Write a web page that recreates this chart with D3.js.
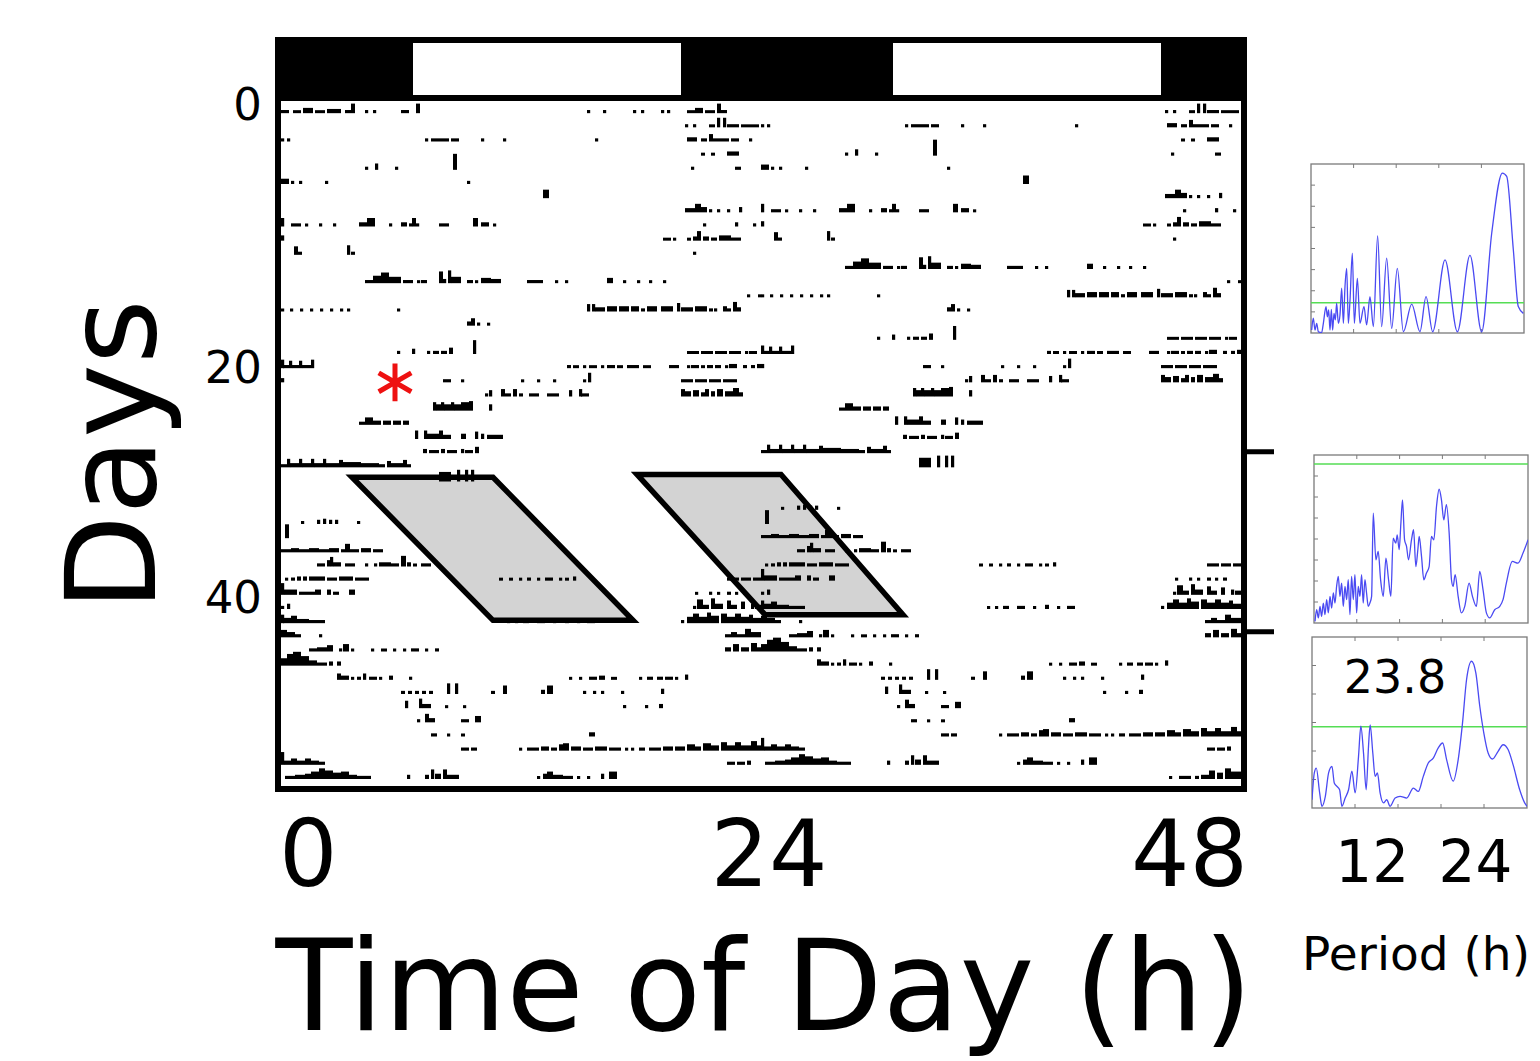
<!DOCTYPE html>
<html>
<head>
<meta charset="utf-8">
<script src="https://cdn.jsdelivr.net/npm/d3@7"></script>
<style>
body { margin: 0; background: #fff; }
svg { display: block; font-family: "DejaVu Sans", Verdana, sans-serif; }
</style>
</head>
<body>
<div id="container"></div>
<script>
const w = 1540;
const h = 1061;

// light schedule on the 48 h double plot (dark spans, hours)
let darkSpans = [[0, 6.6], [20, 30.6], [44, 48]];
let hourTicks = [0, 24, 48];
let dayTicks = [0, 20, 40];

// activity bouts per day: [start h, end h, level]
let bouts = [
  [[0,0.4,2],[0.6,1.0,1],[1.1,1.6,4],[1.7,2.2,1],[2.3,3.0,3],[3.2,3.5,2],[3.5,3.7,8],[4.2,4.35,2],[4.6,4.75,2],[6.0,6.4,2],[6.75,6.95,8],[15.3,15.45,2],[16.1,16.25,2],[17.6,17.75,2],[18.0,18.15,2],[19.0,19.15,2],[19.3,19.45,2],[20.3,20.7,1],[20.7,21.1,4],[21.2,21.7,1],[21.8,22.0,8],[22.0,22.3,2]],
  [[20.2,20.35,2],[20.6,20.75,2],[21.4,21.7,1],[21.8,21.95,8],[22.1,22.25,8],[22.3,22.9,2],[23.0,23.9,1]],
  [[0,0.15,2],[0.3,0.45,2],[7.2,7.35,2],[7.5,8.4,2],[8.5,8.9,2],[10.0,10.15,2],[11.1,11.25,2],[15.7,15.85,2],[20.3,20.8,3],[21.0,21.3,2],[21.4,21.6,6],[21.6,22.4,2],[22.5,22.9,2],[23.4,23.55,2]],
  [[21.0,21.2,1],[21.5,21.7,1],[22.3,22.9,3]],
  [[4.2,4.35,2],[4.7,4.85,5],[5.7,5.85,2],[8.6,8.8,14],[20.5,20.65,2],[22.7,23.0,2]],
  [[0,0.4,4],[0.5,0.6,2],[0.9,1.0,2],[2.2,2.35,2],[9.3,9.45,2]],
  [[13.1,13.4,7]],
  [[20.2,20.7,3],[20.7,21.0,7],[21.0,21.3,4],[21.4,21.55,2],[21.8,21.95,2],[22.3,22.45,2],[22.9,23.05,4]],
  [[0,0.15,7],[0.5,1.0,2],[1.2,1.3,1],[1.9,2.05,2],[2.6,2.75,2],[3.9,4.3,3],[4.3,4.7,7],[5.4,5.55,2],[6.0,6.3,3],[6.4,6.55,2],[6.55,6.75,7],[6.75,6.9,2],[7.9,8.4,2],[9.6,9.85,7],[10.0,10.4,3],[10.6,10.75,1],[21.1,21.25,2],[22.7,22.85,3],[23.6,23.75,2]],
  [[0,0.1,4],[19.1,19.5,1],[19.6,19.75,1],[20.3,20.5,1],[20.6,20.8,3],[20.8,21.0,8],[21.1,21.4,3],[21.5,21.8,2],[21.9,22.5,4],[22.5,23.0,2]],
  [[0.65,0.85,7],[0.85,1.05,2],[3.3,3.45,8],[3.5,3.7,2],[20.6,20.75,2]],
  [],
  [[4.2,4.6,2],[4.6,5.0,6],[5.0,5.4,9],[5.4,6.0,5],[6.1,6.6,2],[6.8,6.95,1],[7.0,7.3,2],[7.9,8.1,10],[8.1,8.25,3],[8.35,8.5,11],[8.5,9.0,5],[9.3,9.6,2],[9.7,9.85,1],[10.0,10.5,4],[10.5,11.0,3],[12.3,13.1,2],[13.7,13.85,1],[14.2,14.35,1],[16.3,16.6,4],[17.1,17.25,1],[17.8,17.95,1],[18.4,18.55,1],[19.1,19.25,1]],
  [[23.3,23.45,1],[23.85,24,1]],
  [[0,0.12,1],[0.45,0.57,1],[0.95,1.07,1],[1.45,1.57,1],[1.95,2.07,1],[2.45,2.57,1],[2.95,3.07,1],[3.3,3.42,1],[5.8,5.92,1],[15.3,15.45,6],[15.55,15.7,6],[15.7,16.2,3],[16.3,16.8,4],[16.9,17.4,4],[17.5,17.9,4],[18.0,18.2,2],[18.3,18.8,4],[19.0,19.6,4],[19.8,19.95,7],[20.0,20.6,3],[20.7,21.3,4],[21.4,21.6,2],[21.65,21.8,2],[22.1,22.3,4],[22.3,22.5,2],[22.6,22.8,8],[22.8,23.0,3]],
  [[9.3,9.5,3],[9.5,9.7,6],[9.8,9.95,2],[10.3,10.45,1]],
  [],
  [[5.8,5.95,2],[6.55,6.65,4],[7.3,7.45,2],[7.6,7.9,2],[8.0,8.3,2],[8.4,8.6,5],[9.6,9.75,12],[20.3,20.9,1],[21.0,21.6,1],[21.7,22.3,1],[22.4,23.0,1],[23.2,23.3,1],[23.4,23.8,1]],
  [[0,0.1,7],[0.1,0.4,2],[0.4,0.55,6],[0.55,0.9,2],[0.9,1.05,6],[1.05,1.5,2],[1.5,1.6,7],[14.3,14.5,2],[14.6,14.9,1],[15.1,15.25,1],[15.4,15.8,1],[16.0,16.15,1],[16.3,16.7,2],[16.8,17.1,1],[17.3,17.9,2],[18.1,18.5,1],[19.4,19.9,2],[20.3,20.45,1],[20.5,20.9,2],[21.0,21.2,1],[21.3,21.6,2],[21.7,22.0,2],[22.2,22.35,1],[22.4,22.8,3],[23.1,23.3,2],[23.5,23.7,2],[23.8,24,3]],
  [[0,0.12,3],[8.1,8.5,2],[9.0,9.12,1],[12.0,12.12,1],[12.8,12.92,1],[13.6,13.72,1],[15.1,15.22,1],[15.35,15.5,8],[20.0,20.6,2],[20.7,21.3,2],[21.4,22.0,2],[22.1,22.8,2]],
  [[10.2,10.3,2],[10.4,10.5,5],[11.0,11.2,6],[11.2,11.5,2],[11.6,11.8,6],[11.9,12.1,2],[12.4,12.9,2],[13.3,13.9,2],[14.4,14.5,5],[14.9,15.0,6],[15.0,15.4,2],[20.0,20.2,6],[20.2,20.5,4],[20.6,20.9,5],[21.0,21.2,3],[21.2,21.4,6],[21.5,21.7,4],[21.8,22.1,6],[22.2,22.6,4],[22.6,22.9,7],[22.9,23.1,3]],
  [[7.6,7.75,7],[7.75,8.0,5],[8.0,8.15,7],[8.15,8.5,5],[8.5,8.65,7],[8.65,9.0,5],[9.0,9.4,7],[9.4,9.6,8],[10.4,10.5,5]],
  [[3.9,4.2,2],[4.2,4.6,6],[4.6,5.0,3],[5.1,5.5,3],[5.6,6.0,3],[6.1,6.4,3]],
  [[6.7,6.8,7],[7.15,7.3,7],[7.3,7.9,4],[7.9,8.1,7],[8.1,8.5,3],[9.0,9.25,4],[9.7,9.8,6],[10.0,10.1,4],[10.3,11.1,3]],
  [[7.1,7.3,3],[7.4,7.9,2],[8.0,8.2,3],[8.3,8.8,2],[9.0,9.15,3],[9.2,9.6,2],[9.7,9.9,5]],
  [[0,0.3,2],[0.3,0.45,7],[0.45,0.9,3],[0.9,1.05,7],[1.05,1.5,3],[1.5,1.65,7],[1.65,2.1,3],[2.1,2.25,7],[2.25,2.9,3],[2.9,3.1,6],[3.1,4.0,4],[4.0,4.9,3],[4.9,5.2,2],[5.3,5.5,5],[5.5,6.1,3],[6.1,6.3,6],[6.3,6.5,2]],
  [[7.9,8.5,8],[8.8,8.95,10],[9.2,9.35,10],[9.5,9.6,10]],
  [],
  [],
  [[1.0,1.12,1],[1.8,1.95,3],[2.1,2.25,4],[2.4,2.55,3],[2.7,2.85,3],[3.8,3.92,1]],
  [[0.2,0.4,12]],
  [[0,0.5,2],[0.5,0.9,3],[0.9,1.4,2],[1.4,1.9,3],[1.9,2.4,2],[2.4,2.9,3],[3.0,3.2,2],[3.2,3.45,7],[3.45,3.9,2],[4.0,4.5,3],[4.6,5.1,2]],
  [[1.8,2.2,2],[2.3,2.45,5],[2.45,2.6,8],[2.6,3.0,3],[3.2,3.7,2],[4.2,4.32,2],[4.65,4.77,2],[4.9,5.5,3],[5.5,5.9,2],[6.0,6.25,9],[6.3,6.5,3],[6.6,6.8,1],[7.0,7.5,2]],
  [[0.2,0.3,1],[0.5,0.7,2],[0.8,1.0,3],[1.1,1.3,3],[1.4,2.2,3],[2.3,2.8,2],[2.9,3.6,3],[3.7,4.4,2],[10.9,11.1,1],[11.4,11.6,1],[11.9,12.0,1],[12.3,12.5,2],[12.8,12.9,1],[13.2,13.6,2],[13.9,14.0,1],[14.2,14.4,1],[14.6,14.7,3],[22.3,22.9,2],[23.0,23.5,2],[23.6,24,2]],
  [[0,0.15,10],[0.15,0.4,4],[0.4,0.8,4],[0.9,1.3,2],[1.3,1.7,2],[1.7,2.0,4],[2.3,2.5,4],[2.6,2.9,2],[3.4,3.7,4],[20.7,20.82,1],[21.4,21.52,2],[21.8,21.92,1],[22.3,22.5,2],[22.7,22.82,1],[23.1,23.3,2]],
  [[0,0.1,2],[0.3,0.4,4],[20.6,20.7,2],[20.8,21.1,8],[21.1,21.4,3],[21.5,21.7,9],[21.7,22.1,4],[22.3,22.5,7],[22.5,22.8,3],[23.0,23.2,6],[23.5,23.6,4],[23.7,24,3]],
  [[0,0.1,7],[0.1,0.5,4],[0.5,0.8,6],[0.8,1.4,3],[1.4,2.2,2],[11.3,11.42,1],[11.7,11.82,1],[12.1,12.4,2],[12.8,13.2,2],[13.6,13.72,1],[14.2,14.4,3],[14.8,14.92,1],[15.3,15.7,2],[20.0,20.12,2],[20.3,20.6,5],[20.6,20.9,8],[20.9,21.3,5],[21.3,21.5,9],[21.5,21.9,6],[22.0,22.3,8],[22.3,22.7,5],[22.7,23.0,8],[23.0,23.4,5],[23.4,23.6,7],[23.6,24,4]],
  [[0,0.3,6],[0.3,0.7,4],[0.7,1.0,2],[1.9,2.02,2],[22.2,22.5,2],[22.5,22.8,4],[22.8,23.2,2],[23.2,23.5,7],[23.5,24,4]],
  [[1.4,1.8,2],[1.8,2.3,3],[2.3,2.6,5],[2.9,3.0,2],[3.1,3.4,6],[3.5,3.6,1],[4.5,4.6,1],[5.0,5.3,1],[5.6,5.7,1],[6.1,6.2,1],[6.5,6.9,2],[7.2,7.3,1],[7.7,7.9,2],[22.2,22.5,3],[22.6,22.9,6],[23.0,23.4,3],[23.5,23.8,7],[23.8,24,3]],
  [[0,0.3,6],[0.3,0.6,10],[0.6,1.0,12],[1.0,1.4,8],[1.4,1.8,4],[1.8,2.3,2],[2.4,2.6,3],[2.8,3.0,3]],
  [[2.8,3.0,5],[3.0,3.4,3],[3.5,3.6,1],[3.8,4.0,2],[4.1,4.2,5],[4.4,4.8,2],[4.9,5.0,1],[5.4,5.6,3],[6.4,6.5,2],[14.4,14.5,1],[14.9,15.0,1],[15.4,15.8,2],[15.9,16.2,3],[16.5,16.8,1],[17.9,18.0,1],[18.3,18.6,2],[18.8,19.1,2],[19.2,19.6,2],[19.7,19.8,1],[20.2,20.3,4]],
  [[6.0,6.2,2],[6.35,6.55,2],[6.7,6.9,2],[7.05,7.25,2],[7.4,7.6,2],[8.3,8.45,9],[8.7,8.85,9],[10.5,10.7,2],[11.1,11.3,7],[13.0,13.2,3],[13.3,13.6,7],[15.1,15.2,2],[15.6,15.7,2],[16.0,16.1,2],[17.0,17.1,2],[19.0,19.06,4]],
  [[6.2,6.35,6],[6.9,7.05,8],[7.05,7.5,3],[8.2,8.3,1],[9.1,9.2,1],[17.1,17.2,2],[18.2,18.3,2],[18.9,19.1,3]],
  [[6.8,6.9,2],[7.2,7.4,7],[7.4,7.7,3],[9.0,9.4,2],[9.7,10.0,5]],
  [[7.5,7.8,2],[8.3,8.4,1],[9.0,9.2,1],[15.4,15.7,3]],
  [[9.0,9.4,2],[9.5,9.8,2],[11.9,12.0,1],[12.3,12.9,2],[13.0,13.4,3],[13.5,13.8,2],[13.9,14.1,5],[14.1,14.4,6],[14.5,15.0,3],[15.1,15.6,2],[15.7,16.3,3],[16.4,17.0,2],[17.2,17.3,1],[17.5,17.6,1],[17.9,18.2,2],[18.4,19.0,2],[19.1,19.6,3],[19.7,20.2,3],[20.3,20.7,5],[20.7,21.0,3],[21.1,21.5,6],[21.5,21.9,4],[22.0,22.3,7],[22.3,22.7,4],[22.7,23.0,7],[23.0,23.5,4],[23.5,23.8,8],[23.8,24,4]],
  [[0,0.15,11],[0.15,0.5,3],[0.5,0.8,5],[0.8,1.2,3],[1.2,1.5,5],[1.5,1.9,3],[1.9,2.2,2],[22.3,22.7,2],[22.8,23.2,2],[23.3,23.5,3]],
  [[0.2,0.7,2],[0.7,1.2,3],[1.2,1.5,4],[1.5,1.9,6],[1.9,2.2,9],[2.2,2.6,7],[2.6,3.0,5],[3.0,3.4,6],[3.4,3.8,3],[3.8,4.5,2],[6.3,6.45,3],[7.2,7.4,3],[7.5,7.65,8],[7.7,8.0,4],[8.1,8.3,8],[8.3,8.9,3],[12.8,12.9,1],[13.1,13.3,4],[13.3,13.6,6],[13.6,14.1,3],[14.1,14.6,2],[14.8,14.9,1],[15.3,15.4,1],[16.0,16.1,4],[16.4,16.8,6]],
  [[20.4,20.5,1],[20.9,21.5,2],[21.7,21.9,2],[22.0,22.4,3],[22.4,22.7,7],[22.8,23.1,5],[23.2,23.5,9],[23.5,24,6]]
];

// shaded phase-shift regions [hour, day]
let shadeA = [[3.55, 26.7], [10.6, 26.7], [17.6, 36.8], [10.6, 36.8]];
let shadeB = [[17.8, 26.5], [25.0, 26.5], [31.1, 36.4], [24.2, 36.4]];
let windowMarks = [24.9, 37.6];
let star = [5.7, 20.0];

// periodograms: period (h) and power (tick units)
let p1Period = [5.08,5.27,5.47,5.67,5.86,6.25,6.45,6.76,6.92,7.07,7.23,7.39,7.54,7.70,7.86,8.01,8.21,8.40,8.60,8.80,8.99,9.19,9.38,9.58,9.85,10.09,10.44,10.75,11.22,11.53,11.92,12.32,12.82,13.29,13.88,14.47,15.13,15.84,16.82,17.79,18.50,19.28,20.73,22.18,23.66,25.03,26.21,27.46,27.97,28.75,29.33,29.92];
let p1Power = [0.14,0.70,0.14,0.46,0.06,0.02,0.46,1.25,0.77,1.09,0.14,1.12,0.14,0.93,0.62,1.41,0.46,0.85,2.12,0.46,2.20,3.06,0.46,1.56,3.78,0.46,2.59,0.46,1.25,0.38,1.72,0.30,4.60,0.30,3.54,0.22,3.06,0.06,1.37,0.06,1.72,0.06,3.46,0.06,3.67,0.06,4.72,7.57,7.41,3.93,1.25,0.93];
let p1Sig = 1.43;

let p2Period = [5.12,5.31,5.51,5.70,5.89,6.09,6.28,6.48,6.67,6.87,7.06,7.26,7.45,7.64,7.84,8.03,8.23,8.42,8.62,8.81,9.00,9.20,9.39,9.59,9.78,9.98,10.17,10.37,10.56,10.75,10.95,11.14,11.34,11.53,11.73,11.92,12.23,12.50,12.78,13.09,13.40,13.71,13.98,14.25,14.56,14.72,14.95,15.15,15.34,15.58,15.81,16.04,16.39,16.63,16.90,17.13,17.29,17.56,17.83,18.14,18.45,18.72,19.00,19.31,19.62,19.89,20.16,20.47,20.79,21.06,21.25,21.49,21.84,22.22,22.61,23.12,23.51,23.97,24.36,24.75,25.14,25.53,26.11,26.70,27.08,27.47,28.17,28.83,29.42,30.0];
let p2Power = [0.08,0.63,0.24,0.79,0.32,0.95,0.40,1.11,0.48,1.27,0.71,1.43,0.95,1.74,2.22,1.27,1.90,0.79,1.74,1.11,2.06,0.40,2.22,1.11,2.30,0.48,1.74,1.27,2.30,0.95,2.06,1.43,0.79,0.95,1.27,5.23,3.01,3.41,2.06,1.27,3.09,2.06,1.27,4.04,3.80,4.20,3.49,4.75,5.86,3.96,3.65,3.01,3.96,4.44,2.69,3.49,4.12,3.17,2.06,2.38,2.69,4.12,3.96,5.55,6.37,5.86,4.91,5.63,4.28,2.06,1.74,2.30,1.27,0.48,0.79,1.90,1.27,0.79,2.46,1.58,0.48,0.24,0.63,0.79,1.11,1.90,2.93,2.85,3.33,3.96];
let p2Sig = 7.57;

let p3Period = [5.0,5.27,5.50,5.89,6.16,6.55,6.93,7.32,7.59,7.90,8.21,8.48,8.86,9.25,9.64,10.02,10.41,10.68,10.99,11.30,11.57,11.76,12.07,12.34,12.61,12.92,13.31,13.69,14.08,14.66,15.24,16.01,16.79,17.36,17.94,18.52,19.10,19.68,20.19,20.65,21.42,22.00,22.50,22.97,23.55,24.05,24.51,24.98,25.48,25.98,26.64,27.22,27.80,28.38,29.15,29.73,30.0];
let p3Power = [0.29,1.23,1.40,0.53,0.06,0.41,1.23,1.46,0.88,0.76,0.64,0.06,0.35,0.64,1.29,0.53,1.81,2.87,1.93,0.64,2.16,2.92,1.93,1.11,1.23,0.53,0.18,0.29,0.06,0.35,0.41,0.35,0.70,0.58,1.11,1.58,1.75,2.11,2.28,1.70,0.94,1.70,2.98,4.50,5.15,4.74,3.57,2.63,1.93,1.72,1.99,2.22,2.05,1.52,0.64,0.18,0.06];
let p3Sig = 2.85;
let p3Label = "23.8";
let periodTicks = [10, 15, 20, 25];
let periodLabels = [12, 24];

let viz = d3.select("#container").append("svg").attr("width", w).attr("height", h);
viz.append("rect").attr("width", w).attr("height", h).attr("fill", "white");

// scales
let xScale = d3.scaleLinear().domain([0, 48]).range([281, 1241]);
let yDay = d3.scaleLinear().domain([0, 48]).range([99, 779]);
let levelScale = d3.scaleLinear().domain([0, 14]).range([0, 15]);
let dayLabelScale = d3.scaleLinear().domain([0, 20, 40]).range([104, 367, 597]);

// LD bar
let ld = viz.append("g");
ld.append("rect").attr("x", xScale(0)).attr("y", 40).attr("width", xScale(48) - xScale(0)).attr("height", 58).attr("fill", "white");
ld.selectAll(".dark").data(darkSpans).enter().append("rect")
  .attr("x", function(d){ return xScale(d[0]) })
  .attr("y", 40)
  .attr("width", function(d){ return xScale(d[1]) - xScale(d[0]) })
  .attr("height", 58)
  .attr("fill", "black");

// shaded regions
let shapeLine = d3.line().x(function(d){ return xScale(d[0]) }).y(function(d){ return yDay(d[1]) });
[shadeA, shadeB].forEach(function(s){
  viz.append("path").attr("d", shapeLine(s) + "Z")
    .attr("fill", "#d3d3d3").attr("stroke", "black").attr("stroke-width", 5.5).attr("stroke-linejoin", "miter");
});

// double-plotted actogram: row i shows day i (left) and day i+1 (right)
let nRows = bouts.length - 1;
let rects = [];
for (let i = 0; i < nRows; i++) {
  bouts[i].forEach(function(b){ rects.push({row: i, s: b[0], e: b[1], v: b[2]}) });
  bouts[i + 1].forEach(function(b){ rects.push({row: i, s: b[0] + 24, e: b[1] + 24, v: b[2]}) });
}
function barH(d){ return Math.max(3, levelScale(d.v) + 1) }
viz.append("g").selectAll("rect").data(rects).enter().append("rect")
  .attr("x", function(d){ return xScale(d.s) })
  .attr("width", function(d){ return Math.max(3.2, xScale(d.e) - xScale(d.s)) })
  .attr("y", function(d){ return yDay(d.row + 1) - barH(d) })
  .attr("height", barH)
  .attr("fill", "black");

// red asterisk
viz.append("path")
  .attr("d", d3.symbol().type(d3.symbolAsterisk).size(1000)())
  .attr("transform", "translate(" + xScale(star[0]) + "," + yDay(star[1]) + ")")
  .attr("stroke", "#ee1111").attr("stroke-width", 5).attr("fill", "none");

// frame
viz.append("rect").attr("x", xScale(0) - 3).attr("y", 40).attr("width", xScale(48) - xScale(0) + 6).attr("height", 749)
  .attr("fill", "none").attr("stroke", "black").attr("stroke-width", 6);
viz.append("line").attr("x1", xScale(0) - 3).attr("x2", xScale(48) + 3).attr("y1", 98).attr("y2", 98)
  .attr("stroke", "black").attr("stroke-width", 6);
viz.selectAll(".wmark").data(windowMarks).enter().append("line")
  .attr("x1", xScale(48)).attr("x2", xScale(48) + 33)
  .attr("y1", function(d){ return yDay(d) }).attr("y2", function(d){ return yDay(d) })
  .attr("stroke", "black").attr("stroke-width", 5);

// axis labels
let anchors = ["start", "middle", "end"];
viz.selectAll(".xlab").data(hourTicks).enter().append("text")
  .attr("x", function(d, i){ return i == 0 ? xScale(d) - 2 : (i == 1 ? xScale(d) + 8 : xScale(d) + 7) })
  .attr("y", 886).attr("text-anchor", function(d, i){ return anchors[i] })
  .attr("font-size", 92).text(function(d){ return d });
viz.selectAll(".ylab").data(dayTicks).enter().append("text")
  .attr("x", 262).attr("y", function(d){ return dayLabelScale(d) + 16 })
  .attr("text-anchor", "end").attr("font-size", 45).text(function(d){ return d });
viz.append("text").attr("transform", "translate(155,455) rotate(-90)").attr("text-anchor", "middle")
  .attr("font-size", 125).text("Days");
viz.append("text").attr("x", 764).attr("y", 1030).attr("text-anchor", "middle")
  .attr("font-size", 126).text("Time of Day (h)");

// periodograms
let panels = [
  {x0: 1311, x1: 1524, y0: 164, y1: 333, n: 8, per: p1Period, pow: p1Power, sig: p1Sig},
  {x0: 1314, x1: 1528, y0: 455, y1: 623, n: 8, per: p2Period, pow: p2Power, sig: p2Sig},
  {x0: 1312, x1: 1527, y0: 637, y1: 808, n: 6, per: p3Period, pow: p3Power, sig: p3Sig}
];
let lastX;
panels.forEach(function(p, k){
  let xP = d3.scaleLinear().domain([5, 30]).range([p.x0, p.x1]);
  let yP = d3.scaleLinear().domain([0, p.n]).range([p.y1, p.y0]);
  lastX = xP;
  let g = viz.append("g");
  g.append("clipPath").attr("id", "clip" + k).append("rect")
    .attr("x", p.x0).attr("y", p.y0).attr("width", p.x1 - p.x0).attr("height", p.y1 - p.y0);
  g.append("rect").attr("x", p.x0).attr("y", p.y0).attr("width", p.x1 - p.x0).attr("height", p.y1 - p.y0)
    .attr("fill", "white").attr("stroke", "#7a7a7a").attr("stroke-width", 1.3);
  periodTicks.forEach(function(t){
    g.append("line").attr("x1", xP(t)).attr("x2", xP(t)).attr("y1", p.y0).attr("y2", p.y0 + 4).attr("stroke", "#7a7a7a");
    g.append("line").attr("x1", xP(t)).attr("x2", xP(t)).attr("y1", p.y1).attr("y2", p.y1 - 4).attr("stroke", "#7a7a7a");
  });
  d3.range(1, p.n).forEach(function(t){
    g.append("line").attr("x1", p.x0).attr("x2", p.x0 + 4).attr("y1", yP(t)).attr("y2", yP(t)).attr("stroke", "#7a7a7a");
  });
  let pts = p.per.map(function(d, i){ return [d, p.pow[i]] });
  let line = d3.line().x(function(d){ return xP(d[0]) }).y(function(d){ return yP(d[1]) }).curve(d3.curveMonotoneX);
  let inner = g.append("g").attr("clip-path", "url(#clip" + k + ")");
  inner.append("line").attr("x1", p.x0).attr("x2", p.x1).attr("y1", yP(p.sig)).attr("y2", yP(p.sig))
    .attr("stroke", "#55dd55").attr("stroke-width", 1.5);
  inner.append("path").attr("d", line(pts)).attr("fill", "none").attr("stroke", "#4a4af2").attr("stroke-width", 1.3);
});
viz.append("text").attr("x", 1395).attr("y", 693).attr("text-anchor", "middle").attr("font-size", 46).text(p3Label);

viz.selectAll(".plab").data(periodLabels).enter().append("text")
  .attr("x", function(d){ return lastX(d) }).attr("y", 882).attr("text-anchor", "middle")
  .attr("font-size", 58).text(function(d){ return d });
viz.append("text").attr("x", 1416).attr("y", 970).attr("text-anchor", "middle").attr("font-size", 47).text("Period (h)");
</script>
</body>
</html>
